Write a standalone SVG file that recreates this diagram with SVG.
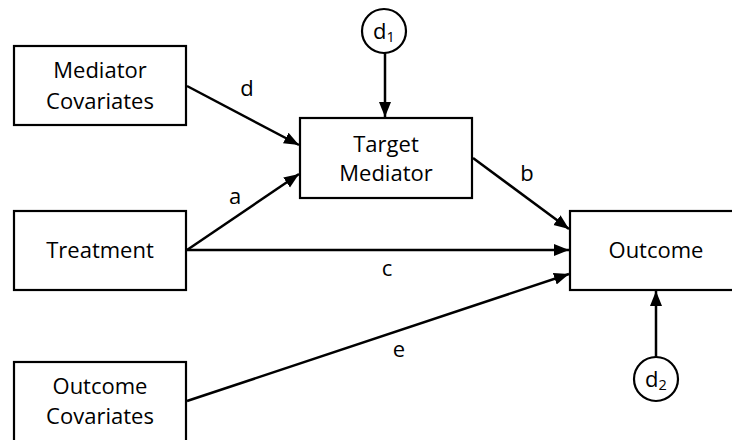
<svg xmlns="http://www.w3.org/2000/svg" width="732" height="440" viewBox="0 0 732 440">
<defs>
<marker id="ah" markerUnits="userSpaceOnUse" markerWidth="16" markerHeight="13" refX="15" refY="6.5" orient="auto">
<path d="M0,0.5 L15,6.5 L0,12.5 z" fill="#000"/>
</marker>
<style>
.box{fill:#fff;stroke:#000;stroke-width:2.2}
.circ{fill:#fff;stroke:#000;stroke-width:2.2}
.t{font-family:"Open Sans","Noto Sans","Liberation Sans",sans-serif;font-size:22px;fill:#000;text-anchor:middle}
.sub{font-size:14.5px}
.edge{stroke:#000;stroke-width:2.5;fill:none;marker-end:url(#ah)}
</style>
</defs>
<rect width="732" height="440" fill="#fff"/>
<g id="connectors">
<line class="edge" x1="187" y1="86" x2="299" y2="145"/>
<line class="edge" x1="187" y1="250" x2="299" y2="174"/>
<line class="edge" x1="473" y1="158" x2="569" y2="229"/>
<line class="edge" x1="187" y1="250" x2="569" y2="250"/>
<line class="edge" x1="187" y1="401" x2="569" y2="274"/>
<line class="edge" x1="385" y1="53" x2="385" y2="117"/>
<line class="edge" x1="656" y1="357" x2="656" y2="291"/>
<text class="t" x="247" y="96">d</text>
<text class="t" x="235" y="204">a</text>
<text class="t" x="527" y="181">b</text>
<text class="t" x="387" y="276">c</text>
<text class="t" x="399" y="357">e</text>
</g>
<g id="mediator-covariates">
<rect class="box" x="14" y="46" width="172" height="79"/>
<text class="t" x="100" y="78">Mediator</text>
<text class="t" x="100" y="109">Covariates</text>
</g>
<g id="treatment">
<rect class="box" x="14" y="211" width="172" height="79"/>
<text class="t" x="100" y="258">Treatment</text>
</g>
<g id="outcome-covariates">
<rect class="box" x="14" y="362" width="172" height="80"/>
<text class="t" x="100" y="394">Outcome</text>
<text class="t" x="100" y="424">Covariates</text>
</g>
<g id="target-mediator">
<rect class="box" x="300" y="118" width="172" height="80"/>
<text class="t" x="386" y="152">Target</text>
<text class="t" x="386" y="181">Mediator</text>
</g>
<g id="outcome">
<rect class="box" x="570" y="211" width="172" height="79"/>
<text class="t" x="656" y="258">Outcome</text>
</g>
<g id="d1">
<circle class="circ" cx="384" cy="31" r="22"/>
<text class="t" x="384" y="39">d<tspan class="sub" dy="3">1</tspan></text>
</g>
<g id="d2">
<circle class="circ" cx="656" cy="379" r="22"/>
<text class="t" x="656" y="387">d<tspan class="sub" dy="3">2</tspan></text>
</g>
</svg>
